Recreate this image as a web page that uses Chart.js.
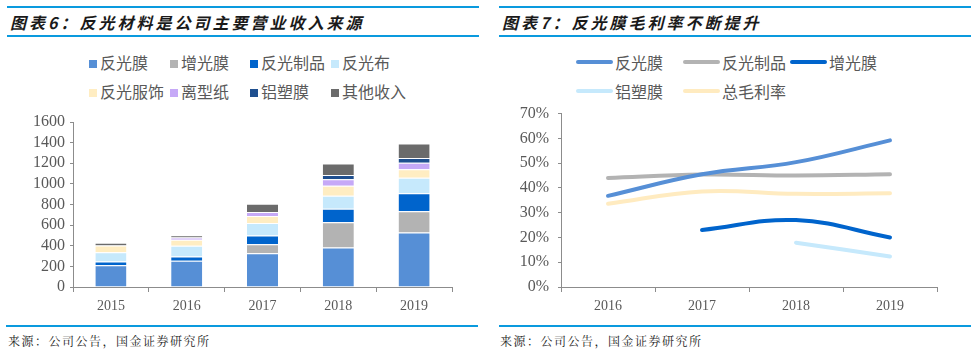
<!DOCTYPE html>
<html><head><meta charset="utf-8">
<script src="https://cdn.jsdelivr.net/npm/chart.js@4.4.1/dist/chart.umd.min.js"></script>
<style>
html,body{margin:0;padding:0;background:#fff;}
body{width:980px;height:355px;position:relative;overflow:hidden;font-family:"Noto Sans CJK SC","Noto Sans",sans-serif;}
.rule{position:absolute;height:2px;background:#0a9ade;}
.title{position:absolute;top:10px;font-size:16px;font-weight:bold;font-style:italic;letter-spacing:3px;color:#1a1a1a;white-space:nowrap;line-height:24px;}
.src{position:absolute;top:332px;font-size:12px;letter-spacing:1.5px;color:#222;white-space:nowrap;line-height:18px;font-family:"Noto Serif CJK SC","Noto Sans CJK SC",serif;}
.leg{position:absolute;font-size:16px;color:#595959;white-space:nowrap;line-height:20px;}
.leg .box{display:inline-block;width:8px;height:8px;margin-right:3px;vertical-align:1px;}
.leg .ln{display:inline-block;width:37px;height:4px;border-radius:2px;margin-right:2px;vertical-align:5px;}
canvas{position:absolute;}
</style></head>
<body>
<div class="rule" style="left:7px;top:6px;width:472px"></div>
<div class="rule" style="left:7px;top:35px;width:472px"></div>
<div class="rule" style="left:499px;top:6px;width:472px"></div>
<div class="rule" style="left:499px;top:35px;width:472px"></div>
<div class="title" style="left:10px">图表6：反光材料是公司主要营业收入来源</div>
<div class="title" style="left:502px">图表7：反光膜毛利率不断提升</div>
<div id="leg1"></div>
<div id="leg2"></div>
<div class="rule" style="left:6px;top:325px;width:472px"></div>
<div class="rule" style="left:499px;top:325px;width:472px"></div>
<div class="src" style="left:8px">来源：公司公告，国金证券研究所</div>
<div class="src" style="left:500px">来源：公司公告，国金证券研究所</div>
<canvas id="c1" width="480" height="215" style="left:0;top:105px;width:480px;height:215px"></canvas>
<canvas id="c2" width="480" height="225" style="left:490px;top:95px;width:480px;height:225px"></canvas>
<script>
// ---- Chart 6 data ----
const years6 = ['2015','2016','2017','2018','2019'];
const s_fgm   = [210, 254, 328, 383, 528];   // 反光膜
const s_zgm   = [0,   0,   87,  245, 206];   // 增光膜
const s_fgzp  = [38,  42,  84,  132, 174];   // 反光制品
const s_fgb   = [90,  103, 122, 125, 151];   // 反光布
const s_fgfs  = [64,  58,  68,  97,  84];    // 反光服饰
const s_lxz   = [0,   23,  39,  64,  61];    // 离型纸
const s_lsm   = [0,   0,   0,   39,  48];    // 铝塑膜
const s_qt    = [26,  22,  80,  113, 139];   // 其他收入
const yTicks6 = [0,200,400,600,800,1000,1200,1400,1600];

// ---- Chart 7 data ----
const years7 = ['2016','2017','2018','2019'];
const m_fgm  = [36.8, 45.5, 50.4, 59.2];   // 反光膜
const m_fgzp = [44.0, 45.4, 45.0, 45.5];   // 反光制品
const m_zgm  = [null, 23.0, 27.0, 20.0];   // 增光膜
const m_lsm  = [null, null, 17.9, 12.3];   // 铝塑膜
const m_total= [33.6, 38.6, 37.6, 37.8];   // 总毛利率
const yTicks7 = [0,10,20,30,40,50,60,70];

const TICK_COLOR = '#595959';
const AXIS_COLOR = '#8c8c8c';
const serif = "'Liberation Serif','Times New Roman',serif";

const bars = [
  {label:'反光膜', data:s_fgm, color:'#568fd6'},
  {label:'增光膜', data:s_zgm, color:'#b3b3b3'},
  {label:'反光制品', data:s_fgzp, color:'#0064cc'},
  {label:'反光布', data:s_fgb, color:'#c6e9fc'},
  {label:'反光服饰', data:s_fgfs, color:'#ffedc2'},
  {label:'离型纸', data:s_lxz, color:'#c6a9f7'},
  {label:'铝塑膜', data:s_lsm, color:'#1f4f8f'},
  {label:'其他收入', data:s_qt, color:'#6b6b6b'}
];
const lines = [
  {label:'反光膜', data:m_fgm, color:'#568fd6'},
  {label:'反光制品', data:m_fgzp, color:'#b3b3b3'},
  {label:'增光膜', data:m_zgm, color:'#0064cc'},
  {label:'铝塑膜', data:m_lsm, color:'#c6e9fc'},
  {label:'总毛利率', data:m_total, color:'#ffebc0'}
];

// HTML legends
(function(){
  const l1 = document.getElementById('leg1');
  const cols = [89,170,250,331], rows=[52,81];
  bars.forEach((b,i)=>{
    const d=document.createElement('div'); d.className='leg';
    d.style.left=cols[i%4]+'px'; d.style.top=rows[Math.floor(i/4)]+'px';
    d.innerHTML='<span class="box" style="background:'+b.color+'"></span>'+b.label;
    l1.appendChild(d);
  });
  const l2 = document.getElementById('leg2');
  const cols2=[576,683,790];
  lines.forEach((b,i)=>{
    const d=document.createElement('div'); d.className='leg';
    d.style.left=cols2[i%3]+'px'; d.style.top=rows[Math.floor(i/3)]+'px';
    d.innerHTML='<span class="ln" style="background:'+b.color+'"></span>'+b.label;
    l2.appendChild(d);
  });
})();

Chart.defaults.animation=false;
Chart.defaults.devicePixelRatio=1;
Chart.defaults.responsive=false;

new Chart(document.getElementById('c1'),{
  type:'bar',
  data:{labels:years6,datasets:bars.map(b=>({label:b.label,data:b.data,backgroundColor:b.color,borderColor:'#ffffff',borderWidth:{top:1,bottom:0,left:0,right:0},borderSkipped:false,categoryPercentage:0.82,barPercentage:0.5}))},
  options:{
    layout:{padding:{top:17,right:28,left:0,bottom:0}},
    plugins:{legend:{display:false},tooltip:{enabled:false}},
    scales:{
      x:{stacked:true,
        grid:{display:true,drawOnChartArea:false,offset:true,tickLength:5,color:AXIS_COLOR},
        border:{color:AXIS_COLOR,width:1},
        ticks:{color:TICK_COLOR,font:{family:serif,size:14},padding:6},
        afterFit:s=>{s.height=33;}},
      y:{stacked:true,min:0,max:1600,
        afterBuildTicks:s=>{s.ticks=yTicks6.map(v=>({value:v}));},
        grid:{display:true,drawOnChartArea:false,tickLength:3,color:AXIS_COLOR},
        border:{color:AXIS_COLOR,width:1},
        ticks:{color:TICK_COLOR,font:{family:serif,size:16},padding:5,autoSkip:false,callback:v=>String(v)},
        afterFit:s=>{s.width=73;}}
    }
  }
});

new Chart(document.getElementById('c2'),{
  type:'line',
  data:{labels:years7,datasets:lines.map(b=>({label:b.label,data:b.data,borderColor:b.color,backgroundColor:b.color,borderWidth:4,pointRadius:0,tension:0.4,borderCapStyle:'round',spanGaps:false}))},
  options:{
    layout:{padding:{top:14,right:33,left:0,bottom:0}},
    plugins:{legend:{display:false},tooltip:{enabled:false}},
    scales:{
      x:{offset:true,
        grid:{display:true,drawOnChartArea:false,offset:true,tickLength:5,color:AXIS_COLOR},
        border:{color:AXIS_COLOR,width:1},
        ticks:{color:TICK_COLOR,font:{family:serif,size:14},padding:6},
        afterFit:s=>{s.height=33;}},
      y:{min:0,max:70,
        afterBuildTicks:s=>{s.ticks=yTicks7.map(v=>({value:v}));},
        grid:{display:true,drawOnChartArea:false,tickLength:3,color:AXIS_COLOR},
        border:{color:AXIS_COLOR,width:1},
        ticks:{color:TICK_COLOR,font:{family:serif,size:16},padding:9,autoSkip:false,callback:v=>v+'%'},
        afterFit:s=>{s.width=71;}}
    }
  }
});
</script>
</body></html>
